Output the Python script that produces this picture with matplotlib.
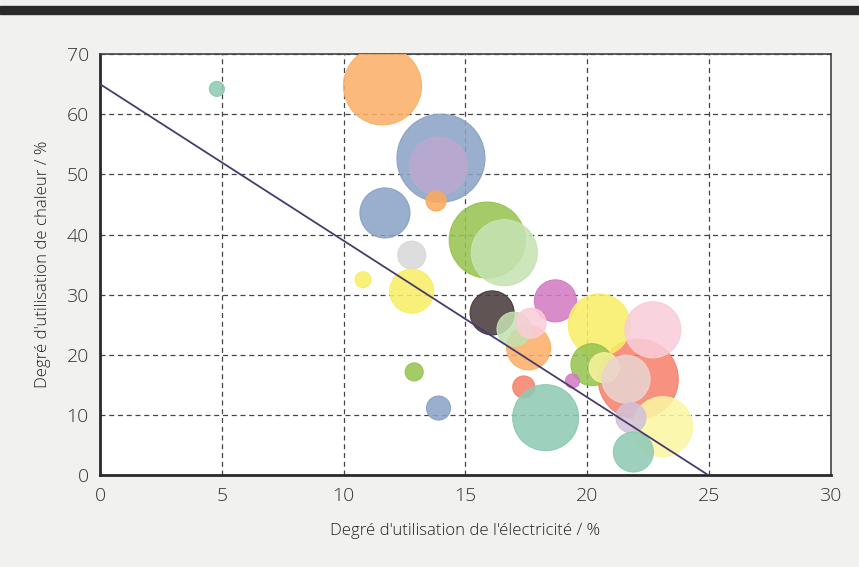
import matplotlib
matplotlib.use("Agg")
import matplotlib.pyplot as plt
from matplotlib.colors import to_rgba
from matplotlib.patches import Rectangle

# bubble data: electricity use (%), heat use (%), relative bubble size
elec = [4.8, 11.6, 14.0, 13.9, 13.8, 11.7, 12.8, 15.9, 16.6, 10.8,
        12.8, 18.7, 16.1, 17.6, 17.0, 17.7, 22.1, 20.5, 22.7, 20.2,
        20.7, 21.6, 19.4, 17.4, 18.3, 23.1, 21.8, 21.9, 13.9, 12.9]
heat = [64.2, 64.7, 52.7, 51.4, 45.6, 43.6, 36.6, 39.1, 37.0, 32.5,
        30.6, 29.0, 27.0, 21.2, 24.3, 25.3, 16.0, 25.0, 24.2, 18.4,
        17.9, 16.0, 15.7, 14.7, 9.6, 8.1, 9.6, 3.9, 11.2, 17.2]
size = [7.5, 39, 44, 29, 10, 25, 14, 38, 33, 8,
        22, 21, 22, 22, 17, 15, 40, 31, 28, 21,
        15, 24, 7, 11, 33, 30, 15, 20, 12, 9]
colors = ["#8fcab5", "#fbb068", "#8ba3c6", "#bba8d0", "#fbaa5c", "#8ba3c6",
          "#d8d8d8", "#98c452", "#c6e3b2", "#f8ee68", "#f8ee68", "#d37cc2",
          "#4a3b3c", "#fbb068", "#c3e0b1", "#f9cdd8", "#f7826d", "#f8ee68",
          "#f9cdd8", "#98c452", "#f7f29a", "#e9d3cf", "#d37cc2", "#f7826d",
          "#8fcab5", "#fbf6a3", "#d0c2d8", "#8fcab5", "#8ba3c6", "#98c452"]

# reference line: 65 % heat at 0 % electricity, 0 % heat at 25 % electricity
line_x = [0, 25]
line_y = [65, 0]

plt.rcParams["font.family"] = ["Open Sans", "DejaVu Sans"]

fig = plt.figure(figsize=(8.59, 5.67), dpi=100)
fig.patch.set_facecolor("#f1f1f0")
fig.patches.append(Rectangle((0, 0.975), 1, 0.015, transform=fig.transFigure,
                             color="#2a2a2a", zorder=0))

ax = fig.add_axes([0.1164, 0.1614, 0.8506, 0.7434])
ax.set_facecolor("white")

s = [(1.44 * r) ** 2 for r in size]
faces = [to_rgba(c, 0.87) for c in colors]
edges = [to_rgba(c, 1.0) for c in colors]
ax.scatter(elec, heat, s=s, facecolors=faces, edgecolors=edges,
           linewidths=0.8, zorder=3)
ax.plot(line_x, line_y, color="#4a3a6e", lw=1.3, zorder=4)

ax.set_xlim(0, 30)
ax.set_ylim(0, 70)
ax.set_xticks(range(0, 31, 5))
ax.set_yticks(range(0, 71, 10))
ax.grid(True, linestyle=(0, (4, 3)), color="#444444", lw=0.9, zorder=0)
ax.set_axisbelow(True)
ax.tick_params(length=0, labelsize=14, colors="#333333", pad=8)
for lab in ax.get_xticklabels() + ax.get_yticklabels():
    lab.set_fontweight("light")

for side in ["left", "bottom"]:
    ax.spines[side].set_linewidth(2)
    ax.spines[side].set_color("#2a2a2a")
for side in ["top", "right"]:
    ax.spines[side].set_linewidth(1.2)
    ax.spines[side].set_color("#444444")

ax.set_xlabel("Degré d'utilisation de l'électricité / %", fontsize=12.1,
              color="#222222", labelpad=13, fontweight="light")
ax.set_ylabel("Degré d'utilisation de chaleur / %", fontsize=12.1,
              color="#222222", labelpad=11, fontweight="light")

fig.savefig("out.png", dpi=100, facecolor=fig.get_facecolor())
